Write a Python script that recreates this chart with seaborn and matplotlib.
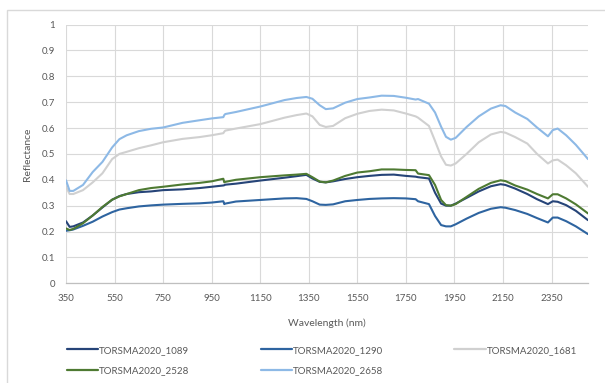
import numpy as np
import pandas as pd
import matplotlib
matplotlib.use("Agg")
import matplotlib.pyplot as plt
import seaborn as sns
from matplotlib.lines import Line2D
from matplotlib.patches import Rectangle

# Wavelength samples (nm)
wavelength = [350, 365, 380, 420, 460, 500, 540, 570, 600, 650, 700, 750, 830, 900,
              950, 998, 1002, 1006, 1050, 1150, 1250, 1300, 1340, 1365, 1395, 1420,
              1450, 1500, 1550, 1600, 1650, 1700, 1750, 1790, 1800, 1845, 1870, 1895,
              1915, 1935, 1955, 2000, 2050, 2100, 2140, 2160, 2200, 2250, 2290, 2335,
              2355, 2375, 2410, 2450, 2500]

refl_1089 = [0.240, 0.218, 0.220, 0.235, 0.262, 0.293, 0.323, 0.337, 0.345, 0.352, 0.355,
             0.360, 0.363, 0.368, 0.373, 0.378, 0.379, 0.381, 0.385, 0.397, 0.408, 0.414,
             0.419, 0.405, 0.392, 0.390, 0.394, 0.403, 0.410, 0.415, 0.419, 0.420, 0.415,
             0.412, 0.410, 0.405, 0.350, 0.308, 0.300, 0.300, 0.308, 0.330, 0.355, 0.375,
             0.383, 0.380, 0.366, 0.345, 0.325, 0.306, 0.317, 0.315, 0.302, 0.280, 0.244]

refl_1290 = [0.203, 0.205, 0.208, 0.222, 0.238, 0.258, 0.275, 0.285, 0.290, 0.297, 0.301,
             0.304, 0.307, 0.309, 0.312, 0.317, 0.306, 0.308, 0.316, 0.322, 0.328, 0.329,
             0.326, 0.317, 0.304, 0.303, 0.305, 0.317, 0.322, 0.326, 0.328, 0.329, 0.328,
             0.325, 0.317, 0.306, 0.260, 0.225, 0.220, 0.220, 0.228, 0.250, 0.272, 0.288,
             0.294, 0.292, 0.283, 0.268, 0.252, 0.235, 0.254, 0.254, 0.240, 0.220, 0.190]

refl_1681 = [0.373, 0.345, 0.345, 0.360, 0.390, 0.425, 0.480, 0.500, 0.508, 0.522, 0.533,
             0.545, 0.558, 0.565, 0.572, 0.580, 0.586, 0.590, 0.598, 0.615, 0.640, 0.650,
             0.656, 0.645, 0.612, 0.604, 0.608, 0.638, 0.655, 0.666, 0.671, 0.668, 0.656,
             0.645, 0.640, 0.608, 0.550, 0.490, 0.458, 0.455, 0.463, 0.500, 0.545, 0.575,
             0.585, 0.582, 0.565, 0.540, 0.500, 0.463, 0.475, 0.478, 0.456, 0.425, 0.373]

refl_2528 = [0.212, 0.206, 0.210, 0.232, 0.262, 0.295, 0.323, 0.336, 0.345, 0.360, 0.368,
             0.373, 0.382, 0.388, 0.394, 0.404, 0.390, 0.392, 0.400, 0.410, 0.417, 0.420,
             0.423, 0.410, 0.393, 0.390, 0.397, 0.415, 0.428, 0.433, 0.440, 0.440, 0.438,
             0.437, 0.424, 0.418, 0.380, 0.322, 0.302, 0.300, 0.306, 0.334, 0.365, 0.388,
             0.398, 0.395, 0.378, 0.362, 0.345, 0.328, 0.344, 0.344, 0.328, 0.305, 0.270]

refl_2658 = [0.398, 0.357, 0.357, 0.380, 0.430, 0.469, 0.525, 0.557, 0.572, 0.588, 0.597,
             0.602, 0.620, 0.630, 0.637, 0.642, 0.650, 0.654, 0.662, 0.683, 0.708, 0.716,
             0.720, 0.713, 0.688, 0.673, 0.676, 0.698, 0.712, 0.718, 0.725, 0.724, 0.717,
             0.710, 0.712, 0.694, 0.660, 0.605, 0.566, 0.555, 0.562, 0.604, 0.645, 0.675,
             0.688, 0.685, 0.660, 0.635, 0.602, 0.568, 0.592, 0.598, 0.572, 0.535, 0.480]

sample_names = ["TORSMA2020_1089", "TORSMA2020_1290", "TORSMA2020_1681",
                "TORSMA2020_2528", "TORSMA2020_2658"]
sample_colors = ["#264478", "#2E64A0", "#D0D0D0", "#4E7A32", "#8DB9E6"]

x_ticks = [350, 550, 750, 950, 1150, 1350, 1550, 1750, 1950, 2150, 2350]
y_ticks = [0, 0.1, 0.2, 0.3, 0.4, 0.5, 0.6, 0.7, 0.8, 0.9, 1]
y_tick_labels = ["0", "0.1", "0.2", "0.3", "0.4", "0.5", "0.6", "0.7", "0.8", "0.9", "1"]

series = [refl_1089, refl_1290, refl_1681, refl_2528, refl_2658]
df = pd.DataFrame({"Wavelength": wavelength})
for name, vals in zip(sample_names, series):
    df[name] = vals
long = df.melt(id_vars="Wavelength", var_name="Sample", value_name="Reflectance")

sns.set_theme(style="white")
plt.rcParams["font.family"] = ["Lato", "DejaVu Sans"]
text_color = "#595959"
grid_color = "#D9D9D9"

fig = plt.figure(figsize=(6.05, 3.83), dpi=100)
ax = fig.add_axes([66 / 605, 1 - 283.3 / 383, 522 / 605, 258.8 / 383])

palette = dict(zip(sample_names, sample_colors))
sns.lineplot(data=long, x="Wavelength", y="Reflectance", hue="Sample",
             hue_order=sample_names, palette=palette, linewidth=1.5,
             legend=False, ax=ax)

ax.set_xlim(350, 2500)
ax.set_ylim(0, 1)
ax.set_xticks(x_ticks)
ax.set_yticks(y_ticks)
ax.set_yticklabels(y_tick_labels)
ax.grid(True, color=grid_color, linewidth=0.8)
ax.set_axisbelow(True)
for side in ["top", "right", "left"]:
    ax.spines[side].set_visible(False)
ax.spines["bottom"].set_color("#BFBFBF")
ax.spines["bottom"].set_linewidth(0.9)
ax.tick_params(axis="both", length=0, labelsize=7, colors=text_color)
ax.tick_params(axis="y", pad=8)
ax.tick_params(axis="x", pad=8)

ax.set_xlabel("Wavelength (nm)", fontsize=7.5, color=text_color, labelpad=11)
ax.set_ylabel("Reflectance", fontsize=7.5, color=text_color)
ax.yaxis.set_label_coords(-0.065, 0.5)

# Legend filled row by row (three entries on the first row, two on the second)
handles = [Line2D([0], [0], color=c, linewidth=1.6) for c in sample_colors]
order = [0, 3, 1, 4, 2]
fig.legend([handles[i] for i in order], [sample_names[i] for i in order],
           loc="upper left", bbox_to_anchor=(58 / 605, 1 - 337 / 383), ncol=3,
           frameon=False, fontsize=7, handlelength=3.2, handletextpad=0.15,
           columnspacing=7.3, labelspacing=1.15, labelcolor=text_color)

# Light chart-area border
fig.patches.append(Rectangle((7 / 605, -0.1), 1.2, 1 - 10 / 383 + 0.1,
                             transform=fig.transFigure, fill=False,
                             edgecolor="#D9D9D9", linewidth=1.0))

fig.savefig("out.png", dpi=100)
